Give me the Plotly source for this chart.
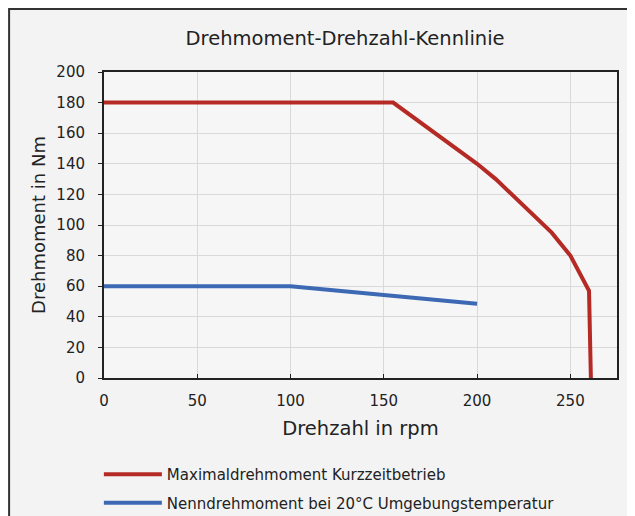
import plotly.graph_objects as go

max_x = [0, 155, 200, 210, 240, 250, 260, 261]
max_y = [180, 180, 140, 130, 95, 80, 57, 0]
nenn_x = [0, 100, 200]
nenn_y = [60, 60, 48.5]
x_ticks = [0, 50, 100, 150, 200, 250]
y_ticks = [0, 20, 40, 60, 80, 100, 120, 140, 160, 180, 200]

FONT = "DejaVu Sans"
fig = go.Figure()
fig.add_trace(go.Scatter(x=max_x, y=max_y, mode="lines", name="Maximaldrehmoment Kurzzeitbetrieb",
                         legendgroup="a", line=dict(color="#b52a25", width=4)))
fig.add_trace(go.Scatter(x=nenn_x, y=nenn_y, mode="lines", name="Nenndrehmoment bei 20°C Umgebungstemperatur",
                         legendgroup="b", line=dict(color="#3c68b4", width=4)))

# figure is placed at (8,8) by the page margin
fig.update_layout(
    width=627, height=508,
    margin=dict(l=96, r=18, t=64, b=138),
    paper_bgcolor="#f3f3f3", plot_bgcolor="#f6f6f6",
    font=dict(family=FONT, color="#222"),
    title=dict(text="Drehmoment-Drehzahl-Kennlinie", xref="paper", x=0.47, xanchor="center",
               yref="container", y=0.94, yanchor="middle",
               font=dict(size=19.5, family=FONT, color="#222")),
    xaxis=dict(range=[0, 275], tickvals=x_ticks, showgrid=True, gridcolor="#d9d9d9", gridwidth=1,
               showline=True, linecolor="#222", linewidth=2, mirror=True, ticks="inside", ticklen=4,
               tickcolor="#222", tickfont=dict(size=15), zeroline=False, ticklabelstandoff=8,
               title=dict(text="Drehzahl in rpm", font=dict(size=19.5), standoff=12)),
    yaxis=dict(range=[0, 200], tickvals=y_ticks, showgrid=True, gridcolor="#d9d9d9", gridwidth=1,
               showline=True, linecolor="#222", linewidth=2, mirror=True, ticks="outside", ticklen=4,
               tickcolor="#222", tickfont=dict(size=15), zeroline=False, ticklabelstandoff=10,
               title=dict(text="Drehmoment in Nm", font=dict(size=18), standoff=6)),
    legend=dict(xref="paper", x=-0.01, yref="container", y=0.114, xanchor="left", yanchor="top",
                orientation="v", traceorder="grouped", tracegroupgap=6,
                bgcolor="rgba(0,0,0,0)", font=dict(size=15, family=FONT, color="#222"),
                itemwidth=58),
    shapes=[dict(type="rect", xref="paper", yref="paper", x0=-0.185, x1=1.05, y0=-0.6, y1=1.206,
                 line=dict(color="#333", width=2), fillcolor="rgba(0,0,0,0)", layer="below")],
)
fig.write_html("out.html")
